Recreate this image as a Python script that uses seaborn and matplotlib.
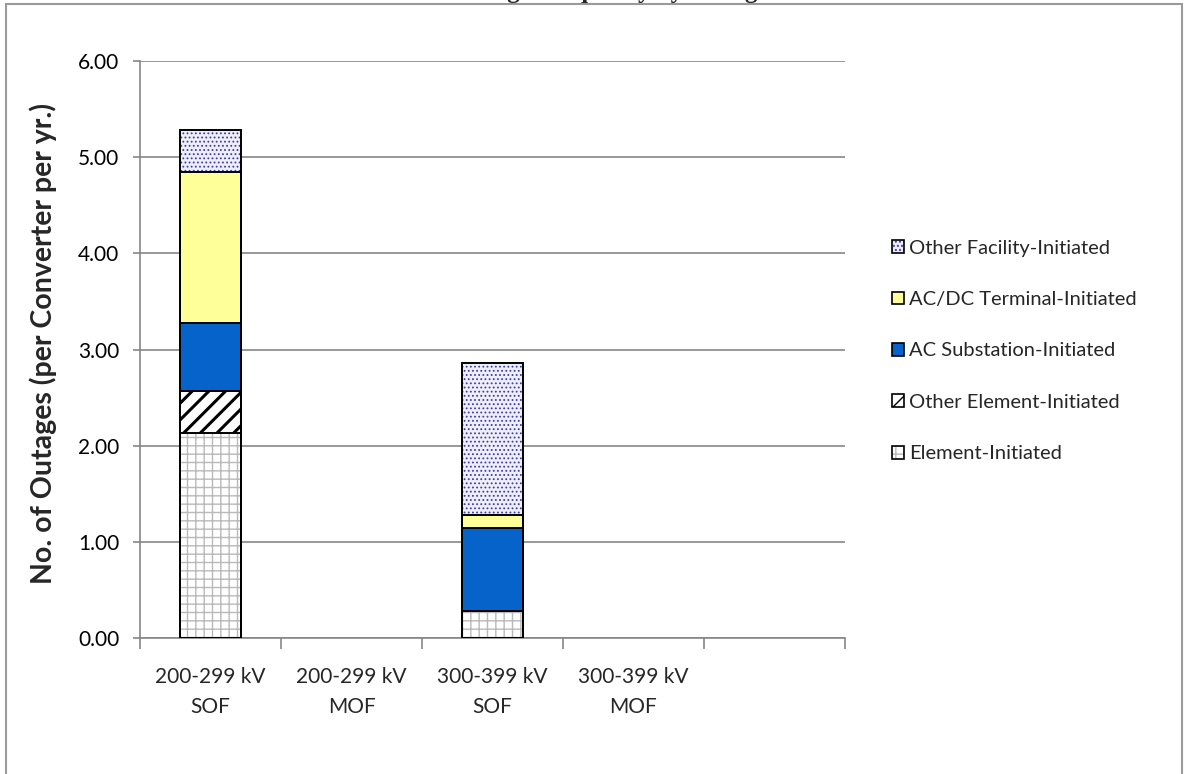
import matplotlib
matplotlib.use("Agg")
import matplotlib.pyplot as plt
from matplotlib.patches import Rectangle
from matplotlib.ticker import FixedLocator
import pandas as pd
import seaborn as sns

# values (outages per converter per year)
categories = ["200-299 kV\nSOF", "200-299 kV\nMOF", "300-399 kV\nSOF", "300-399 kV\nMOF", ""]
element = [2.13, 0.0, 0.28, 0.0, 0.0]
other_element = [0.44, 0.0, 0.0, 0.0, 0.0]
ac_substation = [0.71, 0.0, 0.86, 0.0, 0.0]
acdc_terminal = [1.57, 0.0, 0.14, 0.0, 0.0]
other_facility = [0.43, 0.0, 1.58, 0.0, 0.0]
series_names = [
    "Element-Initiated",
    "Other Element-Initiated",
    "AC Substation-Initiated",
    "AC/DC Terminal-Initiated",
    "Other Facility-Initiated",
]
y_ticks = [0, 1, 2, 3, 4, 5, 6]
title = "Outage Frequency by Voltage"

# face colour, hatch, hatch colour, hatch linewidth
styles = {
    "Element-Initiated": ("white", "++", "#b9b9b9", 1.0),
    "Other Element-Initiated": ("white", "//", "black", 2.2),
    "AC Substation-Initiated": ("#0563c9", "", "#0563c9", 1.0),
    "AC/DC Terminal-Initiated": ("#ffff99", "", "#ffff99", 1.0),
    "Other Facility-Initiated": ("#eeeefa", "....", "#3e3ea6", 0.8),
}

sns.set_style("white")
plt.rcParams["font.family"] = ["Lato", "DejaVu Sans"]

df = pd.DataFrame({"category": categories})
for name, vals in zip(series_names, [element, other_element, ac_substation, acdc_terminal, other_facility]):
    df[name] = vals
cum = df[series_names].cumsum(axis=1)

fig = plt.figure(figsize=(11.85, 7.74), dpi=100)
ax = fig.add_axes([140 / 1185, 1 - 638 / 774, 705 / 1185, 577 / 774])

grid_c = "#868686"


def set_hatch_lw(ax, start, lw):
    for p in ax.patches[start:]:
        if hasattr(p, "set_hatch_linewidth"):
            p.set_hatch_linewidth(lw)


# stack by drawing cumulative totals from the top layer down
for name in reversed(series_names):
    face, hatch, hcol, hlw = styles[name]
    sub = pd.DataFrame({"category": categories, "value": cum[name], "own": df[name]})
    sub = sub[sub["own"] > 0]
    n0 = len(ax.patches)
    sns.barplot(data=sub, x="category", y="value", order=categories, width=0.43,
                color=face, saturation=1, edgecolor=hcol, linewidth=0,
                hatch=hatch, errorbar=None, ax=ax, zorder=3)
    set_hatch_lw(ax, n0, hlw)
    sns.barplot(data=sub, x="category", y="value", order=categories, width=0.43,
                color="black", fill=False, linewidth=1.4, errorbar=None,
                ax=ax, zorder=4)

ax.set_xlim(-0.5, len(categories) - 0.5)
ax.set_ylim(0, 6)
ax.set_yticks(y_ticks)
ax.set_yticklabels([f"{v:.2f}" for v in y_ticks])
ax.set_xticks(range(len(categories)))
ax.set_xticklabels(categories)
ax.xaxis.set_minor_locator(FixedLocator([i - 0.5 for i in range(len(categories) + 1)]))
for t in ax.get_xticklabels():
    t.set_linespacing(1.6)

ax.grid(axis="y", color=grid_c, linewidth=1.2, zorder=0)
ax.set_axisbelow(True)
for s in ["top", "right"]:
    ax.spines[s].set_visible(False)
for s in ["left", "bottom"]:
    ax.spines[s].set_color(grid_c)
    ax.spines[s].set_linewidth(1.2)

ax.tick_params(axis="y", which="major", direction="out", length=5, width=1.2,
               color=grid_c, labelsize=15, labelcolor="black", pad=10, left=True)
ax.tick_params(axis="x", which="major", length=0, labelsize=15, pad=21)
ax.tick_params(axis="x", which="minor", direction="out", length=8, width=1.2,
               color=grid_c, bottom=True)

ax.set_xlabel("")
ax.set_ylabel("No. of Outages (per Converter per yr.)", fontsize=20.5, fontweight="bold")
ax.yaxis.set_label_coords(-0.118, 0.51)

# legend, top entry first
handles = []
for name in reversed(series_names):
    face, hatch, hcol, hlw = styles[name]
    fill = Rectangle((0, 0), 1, 1, facecolor=face, edgecolor=hcol, linewidth=0, hatch=hatch)
    if hasattr(fill, "set_hatch_linewidth"):
        fill.set_hatch_linewidth(min(hlw, 1.6))
    edge = Rectangle((0, 0), 1, 1, facecolor="none", edgecolor="black", linewidth=1.2)
    handles.append((fill, edge))
fig.legend(handles, list(reversed(series_names)), loc="center left",
           bbox_to_anchor=(884 / 1185, 1 - 351 / 774), frameon=False,
           fontsize=14.5, handlelength=0.6, handleheight=0.6, handletextpad=0.25,
           labelspacing=1.71, borderaxespad=0)

# chart border and the clipped title above it
fig.patches.append(Rectangle((6 / 1185, -0.02), 1176 / 1185, 1 - 4 / 774 + 0.02,
                             transform=fig.transFigure, fill=False,
                             edgecolor="#9a9a9a", linewidth=1.5))
fig.text(611 / 1185, 1 + 2 / 774, title, ha="center", va="baseline",
         fontsize=18, fontweight="bold", family=["Liberation Serif", "DejaVu Serif"])

fig.savefig("out.png", dpi=100)
